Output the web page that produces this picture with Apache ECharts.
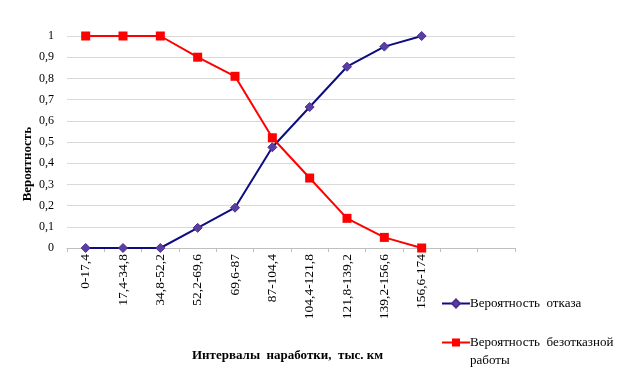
<!DOCTYPE html>
<html><head><meta charset="utf-8">
<script src="https://cdn.jsdelivr.net/npm/echarts@6/dist/echarts.min.js"></script>
<style>html,body{margin:0;padding:0;background:#fff}#c{width:620px;height:382px}</style>
</head><body><div id="c"></div>
<script>
const categories = ['0-17,4','17,4-34,8','34,8-52,2','52,2-69,6','69,6-87','87-104,4','104,4-121,8','121,8-139,2','139,2-156,6','156,6-174','',''];
const failProb = [0, 0, 0, 0.095, 0.19, 0.475, 0.665, 0.855, 0.95, 1.0];
const reliabProb = [1, 1, 1, 0.9, 0.81, 0.52, 0.33, 0.14, 0.05, 0];
const seriesNames = ['Вероятность  отказа', 'Вероятность  безотказной'];
const yTitle = 'Вероятность';
const xTitle = 'Интервалы  наработки,  тыс. км';
const font = '"Liberation Serif","Times New Roman",serif';

const chart = echarts.init(document.getElementById('c'));
chart.setOption({
  animation: false,
  textStyle: {fontFamily: font},
  grid: {left: 67, right: 105, top: 36, bottom: 134, containLabel: false},
  xAxis: {
    type: 'category', data: categories, boundaryGap: true,
    axisLine: {lineStyle: {color: '#bfbfbf'}},
    axisTick: {show: true, length: 4, lineStyle: {color: '#bfbfbf'}},
    axisLabel: {rotate: 90, interval: 0, margin: 6, color: '#000', fontFamily: font, fontSize: 13.5},
    splitLine: {show: false}
  },
  yAxis: {
    type: 'value', min: 0, max: 1, interval: 0.1,
    axisLine: {show: false}, axisTick: {show: false},
    axisLabel: {margin: 13, color: '#000', fontFamily: font, fontSize: 12,
      formatter: v => (Math.round(v*10)/10).toString().replace('.', ',')},
    splitLine: {lineStyle: {color: '#d9d9d9'}}
  },
  legend: [
    {data: [{name: seriesNames[0]}], orient: 'vertical', left: 441, top: 297, itemWidth: 28, itemHeight: 10,
     itemGap: 0, padding: 0, textStyle: {fontFamily: font, fontSize: 13, color: '#000', padding: [0, 0, 0, -5]}},
    {data: [{name: seriesNames[1]}], orient: 'vertical', left: 441, top: 318,
     itemWidth: 28, itemHeight: 10, itemGap: 0, padding: 0,
     formatter: n => '{e| }\n{a|' + n + '}\n{a|работы}',
     textStyle: {fontFamily: font, fontSize: 13, color: '#000', padding: [0, 0, 0, -5],
       rich: {e: {lineHeight: 18, fontSize: 13, fontFamily: font},
              a: {lineHeight: 18, fontSize: 13, fontFamily: font, color: '#000'}}}}
  ],
  graphic: [
    {type: 'text', left: 21, top: 127, rotation: Math.PI/2,
     style: {text: yTitle, font: 'bold 13px ' + font, fill: '#000'}},
    {type: 'text', left: 192, top: 349,
     style: {text: xTitle, font: 'bold 13px ' + font, fill: '#000'}}
  ],
  series: [
    {name: seriesNames[0], type: 'line', data: failProb, symbol: 'diamond', symbolSize: 9,
     lineStyle: {color: '#0d0d80', width: 2}, itemStyle: {color: '#5b3fa0', borderColor: '#4b2f90', borderWidth: 1}},
    {name: seriesNames[1], type: 'line', data: reliabProb, symbol: 'rect', symbolSize: 9,
     lineStyle: {color: '#ff0000', width: 2}, itemStyle: {color: '#ff0000'}}
  ]
});
</script></body></html>
